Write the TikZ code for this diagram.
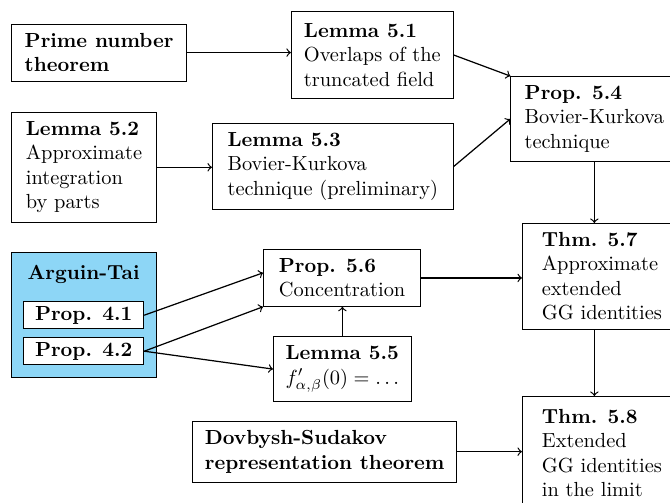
\documentclass[tikz,border=0pt]{standalone}
\usetikzlibrary{fit,backgrounds}
\definecolor{arguinblue}{RGB}{141,214,246}
\tikzset{
	thmbox/.style={draw, align=left, anchor=north west, inner xsep=5pt, inner ysep=4.4pt},
	propbox/.style={draw, fill=white, font=\bfseries, anchor=north west, inner xsep=4.5pt, inner ysep=2.2pt, minimum width=2.07cm},
	dep/.style={->, semithick}
}

\begin{document}
\begin{tikzpicture}
			%%%%% START %%%%%
			\useasboundingbox (0, 0) rectangle (11.54, -8.65);
			
			\node[thmbox, minimum width=3.02cm] (prime) at (0.19, -0.41) {\textbf{Prime number}\\ \textbf{theorem}};
			\node[thmbox, minimum width=2.79cm, minimum height=1.5cm] (l51) at (5.01, -0.19) {\textbf{Lemma 5.1}\\ Overlaps of the\\ truncated field};
			\node[thmbox, minimum width=2.88cm] (p54) at (8.79, -1.31) {\textbf{Prop. 5.4}\\ Bovier-Kurkova\\ technique};
			
			\node[thmbox, minimum width=2.5cm] (l52) at (0.19, -1.93) {\textbf{Lemma 5.2}\\ Approximate\\ integration\\ by parts};
			\node[thmbox, minimum width=4.15cm] (l53) at (3.65, -2.12) {\textbf{Lemma 5.3}\\ Bovier-Kurkova\\ technique (preliminary)};
			
			\node[font=\bfseries, anchor=base, inner sep=0.5pt] (attitle) at (1.44, -4.82) {Arguin-Tai};
			\node[propbox] (p41) at (0.40, -5.19) {Prop. 4.1};
			\node[propbox] (p42) at (0.40, -5.81) {Prop. 4.2};
			\begin{scope}[on background layer]
				\node[fit=(attitle)(p41)(p42), draw, fill=arguinblue, inner sep=6pt] (at) {};
			\end{scope}
			
			\node[thmbox, minimum width=2.71cm] (p56) at (4.53, -4.29) {\textbf{Prop. 5.6}\\ Concentration};
			\node[thmbox, minimum width=2.38cm] (l55) at (4.70, -5.79) {\textbf{Lemma 5.5}\\ $f'_{\alpha,\beta}(0) = \dots$};
			\node[thmbox, minimum width=2.74cm] (t57) at (8.99, -3.84) {\textbf{Thm. 5.7}\\ Approximate\\ extended\\ GG identities};
			
			\node[thmbox, minimum width=4.55cm] (ds) at (3.31, -7.25) {\textbf{Dovbysh-Sudakov}\\ \textbf{representation theorem}};
			\node[thmbox, minimum width=2.74cm, minimum height=1.95cm] (t58) at (8.99, -6.82) {\textbf{Thm. 5.8}\\ Extended\\ GG identities\\ in the limit};
			
			\draw[dep] (prime.east) -- (prime.east -| l51.west);
			\draw[dep] (l51.east) -- (p54.north west);
			\draw[dep] (l52.east) -- (l52.east -| l53.west);
			\draw[dep] (l53.east) -- (p54.west);
			\draw[dep] (p54.south) -- (p54.south |- t57.north);
			
			\draw[dep] (p41.east) -- ([yshift=2.5pt]p56.west);
			\draw[dep] (p42.east) -- (p56.south west);
			\draw[dep] (p42.east) -- (l55.west);
			\draw[dep] (l55.north) -- (l55.north |- p56.south);
			\draw[dep] (p56.east) -- (p56.east -| t57.west);
			
			\draw[dep] (p54.south |- t57.south) -- (p54.south |- t58.north);
			\draw[dep] (ds.east) -- (ds.east -| t58.west);
			
			%%%%% END %%%%%
\end{tikzpicture}
\end{document}
